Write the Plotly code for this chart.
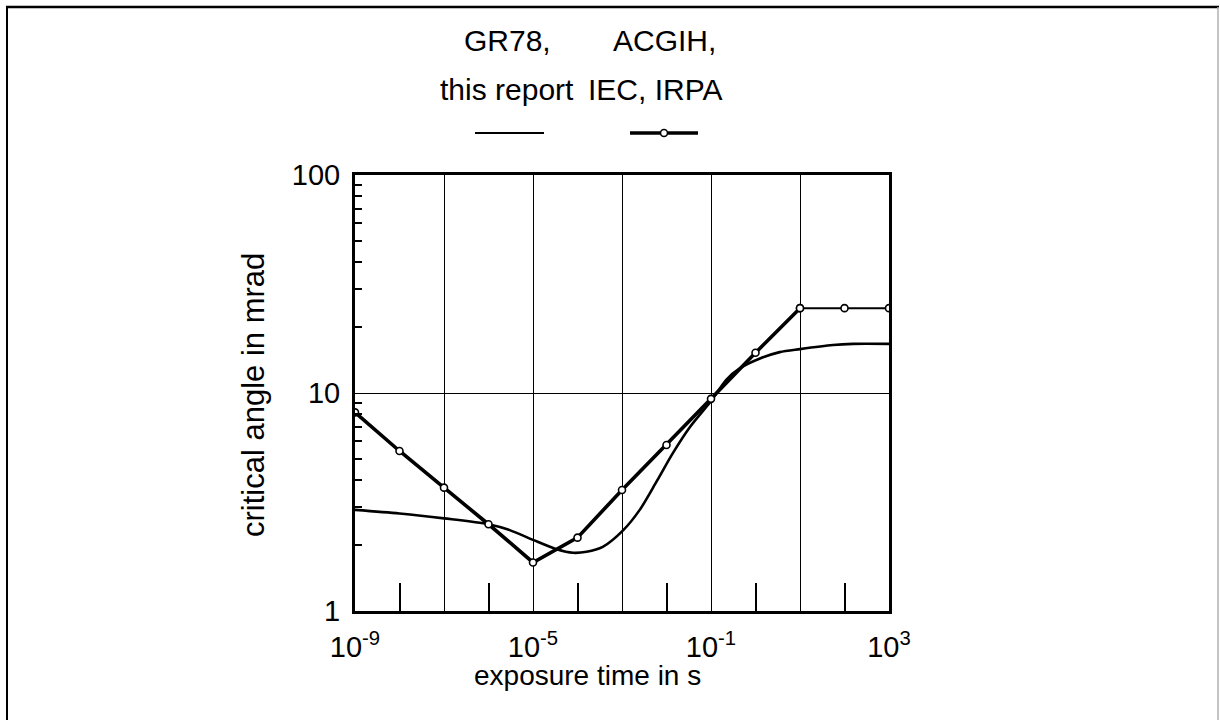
import plotly.graph_objects as go

# ACGIH, IEC, IRPA (line with circle markers)
acgih_t = [1e-9, 1e-8, 1e-7, 1e-6, 1e-5, 1e-4, 1e-3, 1e-2, 1e-1, 1e0, 1e1, 1e2, 1e3]
acgih_v = [8.15, 5.42, 3.68, 2.50, 1.67, 2.17, 3.59, 5.77, 9.4, 15.3, 24.5, 24.5, 24.5]

# GR78, this report (smooth curve)
gr78_t = [1e-9, 1e-8, 1e-7, 1e-6, 3.0e-6, 1.0e-5, 3.4e-5, 7.9e-5, 1.6e-4, 3.7e-4,
          1.07e-3, 2.5e-3, 6.0e-3, 1.4e-2, 3.4e-2, 7.9e-2, 0.105, 0.22, 0.45,
          1.26, 3.5, 10, 55, 155, 1000]
gr78_v = [2.91, 2.80, 2.66, 2.50, 2.35, 2.12, 1.92, 1.85, 1.87, 1.97,
          2.35, 2.91, 3.93, 5.31, 7.0, 8.65, 9.29, 11.5, 13.0,
          14.4, 15.4, 15.9, 16.6, 16.8, 16.8]

x_tickvals = [1e-9, 1e-5, 1e-1, 1e3]
x_ticktext = ["10<sup>-9</sup>", "10<sup>-5</sup>", "10<sup>-1</sup>", "10<sup>3</sup>"]
x_grid_extra = [1e-7, 1e-3, 1e1]
x_odd_ticks = [1e-8, 1e-6, 1e-4, 1e-2, 1e0, 1e2]
y_tickvals = [1, 10, 100]
y_ticktext = ["1", "10", "100"]
y_minor = [2, 3, 4, 5, 6, 7, 8, 9, 20, 30, 40, 50, 60, 70, 80, 90]

FONT = "Liberation Sans, Arial, Helvetica, sans-serif"

fig = go.Figure()
fig.add_trace(go.Scatter(x=gr78_t, y=gr78_v, mode="lines", name="GR78, this report",
                         line=dict(color="black", width=2.6, shape="spline", smoothing=0.8)))
split = acgih_t.index(1e1)
fig.add_trace(go.Scatter(x=acgih_t[:split + 1], y=acgih_v[:split + 1], mode="lines+markers",
                         name="ACGIH, IEC, IRPA",
                         line=dict(color="black", width=3.6),
                         marker=dict(symbol="circle", size=7, color="white",
                                     line=dict(color="black", width=1.6))))
fig.add_trace(go.Scatter(x=acgih_t[split:], y=acgih_v[split:], mode="lines+markers",
                         name="ACGIH, IEC, IRPA", showlegend=False, xaxis="x2",
                         line=dict(color="black", width=2),
                         marker=dict(symbol="circle", size=7, color="white",
                                     line=dict(color="black", width=1.6))))

fig.update_layout(
    width=1220, height=720,
    margin=dict(l=355, r=331, t=175, b=109),
    paper_bgcolor="white", plot_bgcolor="white",
    showlegend=False,
    font=dict(family=FONT, size=29, color="black"),
    xaxis=dict(
        type="log", range=[-9, 3],
        tickmode="array", tickvals=x_tickvals, ticktext=x_ticktext,
        ticks="", ticklabelstandoff=8,
        tickfont=dict(size=29),
        showgrid=True, gridcolor="black", gridwidth=1.4,
        showline=True, linecolor="black", linewidth=3, mirror=True,
        zeroline=False,
        minor=dict(tickmode="array", tickvals=x_odd_ticks, ticks="inside", ticklen=28,
                   tickwidth=1.6, tickcolor="black", showgrid=False),
    ),
    xaxis2=dict(
        type="log", range=[-9, 3], overlaying="x", side="bottom", anchor="y",
        tickmode="array", tickvals=x_grid_extra, ticks="",
        showticklabels=False, showgrid=True, gridcolor="black", gridwidth=1.4,
        showline=False, zeroline=False,
    ),
    yaxis=dict(
        type="log", range=[0, 2],
        tickmode="array", tickvals=y_tickvals, ticktext=y_ticktext,
        ticks="", ticklabelstandoff=6,
        tickfont=dict(size=29),
        showgrid=True, gridcolor="black", gridwidth=1.4,
        showline=True, linecolor="black", linewidth=3, mirror=True,
        zeroline=False,
        minor=dict(tickmode="array", tickvals=y_minor, ticks="inside", ticklen=7,
                   tickwidth=1.6, tickcolor="black", showgrid=False),
    ),
)

# pixel -> paper helpers (plot area: x 355..889, y 175..611)
def px(x):
    return (x - 355) / 534.0

def py(y):
    return (611 - y) / 436.0

# axis titles
fig.add_annotation(xref="paper", yref="paper", x=px(587), y=py(675), text="exposure time in s",
                   showarrow=False, font=dict(size=28), xanchor="center", yanchor="middle")
fig.add_annotation(xref="paper", yref="paper", x=px(253), y=py(395), text="critical angle in mrad",
                   showarrow=False, font=dict(size=31), textangle=-90,
                   xanchor="center", yanchor="middle")

# outer frame of the scanned figure
fig.add_shape(type="line", xref="paper", yref="paper", x0=px(6), x1=px(1219), y0=py(7), y1=py(7),
              line=dict(color="black", width=2.5))
fig.add_shape(type="line", xref="paper", yref="paper", x0=px(7), x1=px(7), y0=py(7), y1=py(725),
              line=dict(color="black", width=2))
fig.add_shape(type="line", xref="paper", yref="paper", x0=px(1218), x1=px(1218), y0=py(7), y1=py(725),
              line=dict(color="#b0b0b0", width=1.5))

# legend block (text above sample lines)
fig.add_annotation(xref="paper", yref="paper", x=px(507), y=py(40), text="GR78,",
                   showarrow=False, font=dict(size=30), xanchor="center", yanchor="middle")
fig.add_annotation(xref="paper", yref="paper", x=px(507), y=py(90), text="this report",
                   showarrow=False, font=dict(size=30), xanchor="center", yanchor="middle")
fig.add_annotation(xref="paper", yref="paper", x=px(664), y=py(40), text="ACGIH,",
                   showarrow=False, font=dict(size=30), xanchor="center", yanchor="middle")
fig.add_annotation(xref="paper", yref="paper", x=px(655), y=py(90), text="IEC, IRPA",
                   showarrow=False, font=dict(size=30), xanchor="center", yanchor="middle")
fig.add_shape(type="line", xref="paper", yref="paper", x0=px(475), x1=px(544), y0=py(133), y1=py(133),
              line=dict(color="black", width=2))
fig.add_shape(type="line", xref="paper", yref="paper", x0=px(630), x1=px(698), y0=py(133), y1=py(133),
              line=dict(color="black", width=3.6))
fig.add_shape(type="circle", xref="paper", yref="paper", x0=px(660.5), x1=px(667.5), y0=py(129.5), y1=py(136.5),
              line=dict(color="black", width=1.6), fillcolor="white")

fig.write_html("out.html")
